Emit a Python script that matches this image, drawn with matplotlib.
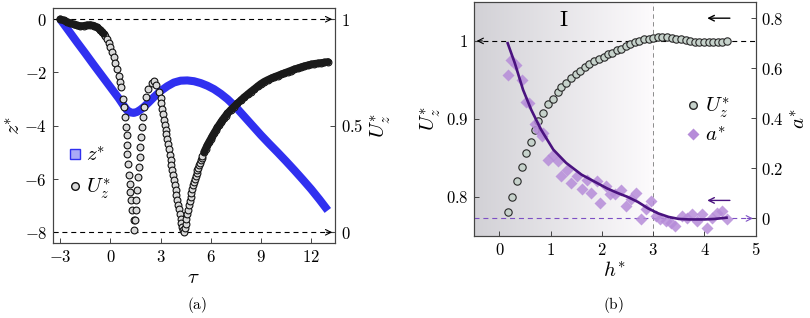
import numpy as np
import matplotlib
matplotlib.use('Agg')
import matplotlib.pyplot as plt
from matplotlib.ticker import FuncFormatter
from matplotlib.lines import Line2D
from matplotlib.colors import LinearSegmentedColormap

plt.rcParams['mathtext.fontset'] = 'cm'
plt.rcParams['font.family'] = ['DejaVu Serif']

# ---- panel (a) : z* and U_z* against tau ----
tau_z = [-3.0, -2.5, -2.0, -1.5, -1.0, -0.5, 0.0, 0.5, 0.8, 1.0, 1.2, 1.4, 1.6, 1.8,
         2.0, 2.3, 2.6, 3.0, 3.4, 3.8, 4.2, 4.6, 5.0, 5.4, 5.8, 6.2, 6.6, 7.0, 7.5,
         8.0, 8.5, 9.0, 9.5, 10.0, 10.5, 11.0, 11.5, 12.0, 12.5, 13.0]
z_star = [0.0, -0.43, -0.86, -1.28, -1.71, -2.13, -2.55, -2.97, -3.25, -3.42, -3.5,
          -3.52, -3.48, -3.4, -3.3, -3.12, -2.93, -2.7, -2.52, -2.38, -2.31, -2.3,
          -2.33, -2.4, -2.5, -2.63, -2.8, -3.0, -3.3, -3.65, -4.0, -4.35, -4.68,
          -5.0, -5.33, -5.67, -6.02, -6.38, -6.77, -7.18]

tau_u = [-3.0, -2.8, -2.6, -2.4, -2.2, -2.0, -1.8, -1.6, -1.4, -1.2, -1.0, -0.8, -0.6,
         -0.5, -0.4, -0.3, -0.2, -0.1, 0.0, 0.1, 0.2, 0.3, 0.4, 0.5, 0.6,
         0.665, 0.75, 0.826, 0.866, 0.925, 0.965, 1.0, 1.02, 1.06, 1.12, 1.16, 1.2,
         1.26, 1.32, 1.4, 1.42,
         1.46, 1.52, 1.54, 1.6, 1.66, 1.7, 1.76, 1.8, 1.86, 1.9, 1.96, 2.02, 2.12,
         2.26, 2.46, 2.62, 2.75, 2.9,
         3.0, 3.05, 3.1, 3.15, 3.2, 3.25, 3.3, 3.35, 3.4, 3.45, 3.5, 3.55, 3.6, 3.65,
         3.7, 3.75, 3.8, 3.85, 3.9, 3.95, 4.0, 4.05, 4.1, 4.15, 4.2, 4.25, 4.3, 4.35,
         4.4, 4.45, 4.5, 4.55, 4.6, 4.65, 4.7, 4.75, 4.8, 4.85, 4.9, 4.95, 5.0, 5.05,
         5.1, 5.15, 5.2, 5.25, 5.3, 5.35, 5.4, 5.45, 5.5, 5.6, 5.7, 5.8, 5.9, 6.0,
         6.1, 6.2, 6.3, 6.4, 6.5, 6.6, 6.7, 6.8, 6.9, 7.0, 7.2, 7.4, 7.6, 7.8, 8.0,
         8.2, 8.4, 8.6, 8.8, 9.0, 9.2, 9.4, 9.6, 9.8, 10.0, 10.2, 10.4, 10.6, 10.8,
         11.0, 11.2, 11.4, 11.6, 11.8, 12.0, 12.2, 12.4, 12.6, 12.8, 13.0]
u_star_a = [1.0, 0.995, 0.988, 0.982, 0.976, 0.971, 0.968, 0.969, 0.972, 0.973, 0.97,
            0.962, 0.95, 0.942, 0.932, 0.92, 0.905, 0.889, 0.87, 0.848, 0.822, 0.795,
            0.765, 0.735, 0.705,
            0.68, 0.626, 0.587, 0.54, 0.493, 0.455, 0.408, 0.369, 0.322, 0.268, 0.229,
            0.19, 0.151, 0.104, 0.057, 0.011,
            0.057, 0.104, 0.151, 0.197, 0.26, 0.307, 0.354, 0.4, 0.447, 0.493, 0.54,
            0.587, 0.634, 0.673, 0.7, 0.708, 0.69, 0.66,
            0.628, 0.605, 0.58, 0.553, 0.527, 0.503, 0.482, 0.46, 0.438, 0.415, 0.392,
            0.365, 0.34, 0.315, 0.292, 0.268, 0.245, 0.222, 0.198, 0.175, 0.152, 0.13,
            0.108, 0.085, 0.062, 0.042, 0.024, 0.01, 0.003, 0.02, 0.04, 0.062, 0.085,
            0.107, 0.128, 0.148, 0.168, 0.186, 0.204, 0.221, 0.237, 0.252, 0.266,
            0.279, 0.292, 0.304, 0.316, 0.327, 0.338, 0.348, 0.358, 0.376, 0.393,
            0.409, 0.424, 0.438, 0.452, 0.466, 0.479, 0.492, 0.504, 0.516, 0.527,
            0.538, 0.548, 0.558, 0.575, 0.59, 0.605, 0.62, 0.634, 0.647, 0.66, 0.672,
            0.685, 0.697, 0.707, 0.715, 0.722, 0.729, 0.735, 0.741, 0.747, 0.753,
            0.759, 0.765, 0.77, 0.775, 0.78, 0.784, 0.788, 0.791, 0.793, 0.795,
            0.797, 0.8]

# ---- panel (b) : U_z* and a* against h* ----
h_u = [0.17, 0.25, 0.34, 0.43, 0.52, 0.61, 0.69, 0.76, 0.85, 0.94, 1.04, 1.14, 1.21,
       1.3, 1.39, 1.49, 1.58, 1.67, 1.75, 1.85, 1.94, 2.03, 2.12, 2.2, 2.29, 2.38,
       2.47, 2.55, 2.64, 2.73, 2.82, 2.91, 3.0, 3.09, 3.18, 3.27, 3.36, 3.45, 3.54,
       3.63, 3.72, 3.81, 3.9, 3.99, 4.08, 4.17, 4.26, 4.35, 4.43]
u_star_b = [0.781, 0.8, 0.82, 0.839, 0.856, 0.871, 0.886, 0.897, 0.907, 0.919, 0.926,
            0.934, 0.941, 0.946, 0.952, 0.958, 0.962, 0.966, 0.971, 0.974, 0.977,
            0.98, 0.983, 0.985, 0.988, 0.99, 0.993, 0.996, 0.998, 1.0, 1.002, 1.003,
            1.004, 1.005, 1.005, 1.005, 1.004, 1.003, 1.002, 1.001, 1.0, 0.999,
            0.998, 0.998, 0.998, 0.998, 0.998, 0.999, 1.0]

h_a = [0.16, 0.23, 0.33, 0.43, 0.51, 0.57, 0.69, 0.75, 0.82, 0.85, 0.94, 1.04, 1.14,
       1.21, 1.32, 1.39, 1.51, 1.61, 1.7, 1.78, 1.9, 1.97, 2.07, 2.16, 2.26, 2.37,
       2.47, 2.56, 2.66, 2.76, 2.85, 2.95, 3.05, 3.14, 3.24, 3.34, 3.43, 3.56, 3.66,
       3.75, 3.85, 3.95, 4.04, 4.14, 4.24, 4.34, 4.43]
a_star = [0.574, 0.633, 0.612, 0.552, 0.466, 0.461, 0.378, 0.355, 0.33, 0.341, 0.235,
          0.255, 0.228, 0.169, 0.195, 0.142, 0.169, 0.116, 0.155, 0.102, 0.149, 0.063,
          0.129, 0.096, 0.096, 0.113, 0.049, 0.076, 0.102, -0.001, 0.036, 0.069,
          0.009, -0.004, -0.011, -0.017, -0.031, 0.009, 0.003, 0.016, -0.011, 0.016,
          -0.037, 0.003, 0.023, 0.029, -0.004]

h_fit = [0.16, 0.3, 0.46, 0.62, 0.81, 1.05, 1.3, 1.6, 1.9, 2.1, 2.3, 2.5, 2.7, 2.9,
         3.1, 3.3, 3.5, 3.7, 4.0, 4.2, 4.43]
a_fit = [0.7, 0.62, 0.514, 0.434, 0.355, 0.275, 0.222, 0.175, 0.142, 0.12, 0.102,
         0.086, 0.066, 0.04, 0.02, 0.006, -0.002, -0.004, -0.004, -0.002, 0.003]


def math_fmt(v, pos):
    return '$%g$' % v


def style_axes(ax):
    for s in ax.spines.values():
        s.set_color('#444444')
        s.set_linewidth(0.8)
    ax.tick_params(direction='in', length=3.5, width=0.7, color='#444444',
                   labelsize=12, pad=4)
    ax.xaxis.set_major_formatter(FuncFormatter(math_fmt))
    ax.yaxis.set_major_formatter(FuncFormatter(math_fmt))


dash = (0, (4.5, 3.5))
fig = plt.figure(figsize=(8.1, 3.18), dpi=100)

# ---------------- (a) ----------------
axA = fig.add_axes([0.065, 0.236, 0.3486, 0.739])
axA2 = axA.twinx()
axA.plot(tau_z, z_star, color='#3030f0', lw=5.8, solid_capstyle='butt',
         solid_joinstyle='round', zorder=2)
t_u = np.array(tau_u)
v_u = np.array(u_star_a)
axA2.plot(t_u, v_u, 'o', ls='none', ms=4.9, mfc='#dadada', mec='#111111',
          mew=0.8, zorder=3)
# where the samples crowd together the circles merge into a dark band
for part in (t_u <= -0.4, t_u >= 5.6):
    axA2.plot(t_u[part], v_u[part], color='#1a1a1a', lw=5.4,
              solid_capstyle='round', solid_joinstyle='round', zorder=4)
axA.set_xlim(-3.45, 13.43)
axA.set_ylim(-8.4, 0.42)
axA2.set_ylim(-0.05, 1.053)
axA.set_xticks([-3, 0, 3, 6, 9, 12])
axA.set_yticks([0, -2, -4, -6, -8])
axA2.set_yticks([0, 0.5, 1])
for yv in (0, 1):
    axA2.axhline(yv, color='k', ls=dash, lw=0.8, zorder=1)
    axA2.annotate('', xy=(1.0, yv), xycoords=('axes fraction', 'data'),
                  xytext=(0.96, yv), textcoords=('axes fraction', 'data'),
                  arrowprops=dict(arrowstyle='->', color='k', lw=0.8))
style_axes(axA)
style_axes(axA2)
axA.set_xlabel(r'$\tau$', fontsize=15, labelpad=2)
axA.set_ylabel(r'$z^{*}$', fontsize=15, labelpad=0)
axA2.set_ylabel(r'$U_z^{*}$', fontsize=15, labelpad=4)
hA = [Line2D([], [], marker='s', ls='none', ms=6.5, mfc='#a9a9f7', mec='#3030f0'),
      Line2D([], [], marker='o', ls='none', ms=5.5, mfc='#dadada', mec='#111111')]
axA2.legend(hA, [r'$z^{*}$', r'$U_z^{*}$'], loc='lower left',
            bbox_to_anchor=(-0.01, 0.1), frameon=False, fontsize=15,
            handlelength=0.6, handletextpad=0.25, labelspacing=0.55)

# ---------------- (b) ----------------
axB = fig.add_axes([0.585, 0.258, 0.348, 0.736])
axB2 = axB.twinx()
shade = LinearSegmentedColormap.from_list('shade', ['#d2d1d6', '#fdfbfd'])
axB.imshow(np.linspace(0, 1, 256)[None, :], extent=[-0.5, 3, 0.75, 1.05],
           aspect='auto', cmap=shade, zorder=0)
axB.axvline(3, color='#8c8c8c', ls=dash, lw=0.7, zorder=1)
axB.plot(h_u, u_star_b, 'o', ls='none', ms=5.3, mfc='#c6d2cb', mec='#2a2a2a',
         mew=0.8, zorder=3)
axB.axhline(1, color='k', ls=dash, lw=0.8, zorder=1)
axB.annotate('', xy=(0.0, 1), xycoords=('axes fraction', 'data'),
             xytext=(0.04, 1), textcoords=('axes fraction', 'data'),
             arrowprops=dict(arrowstyle='->', color='k', lw=0.8))
axB2.plot(h_a, a_star, 'D', ls='none', ms=6.2, mfc='#b68cd9', mec='none',
          alpha=0.85, zorder=2)
axB2.plot(h_fit, a_fit, color='#4a137f', lw=1.9, zorder=4)
axB2.axhline(0, color='#7d4fc4', ls=dash, lw=0.8, zorder=1)
axB2.annotate('', xy=(1.0, 0), xycoords=('axes fraction', 'data'),
              xytext=(0.96, 0), textcoords=('axes fraction', 'data'),
              arrowprops=dict(arrowstyle='->', color='#7d4fc4', lw=0.8))
axB2.annotate('', xy=(4.0, 0.8), xytext=(4.55, 0.8),
              arrowprops=dict(arrowstyle='->', color='k', lw=1.0))
axB2.annotate('', xy=(4.0, 0.072), xytext=(4.55, 0.072),
              arrowprops=dict(arrowstyle='->', color='#4a137f', lw=1.0))
axB.text(1.25, 1.027, r'$\mathrm{I}$', fontsize=16, ha='center', va='center')
axB.set_xlim(-0.5, 5)
axB.set_ylim(0.75, 1.05)
axB2.set_ylim(-0.07, 0.865)
axB.set_xticks([0, 1, 2, 3, 4, 5])
axB.set_yticks([0.8, 0.9, 1.0])
axB2.set_yticks([0, 0.2, 0.4, 0.6, 0.8])
style_axes(axB)
style_axes(axB2)
axB.set_xlabel(r'$h^{*}$', fontsize=15, labelpad=2)
axB.set_ylabel(r'$U_z^{*}$', fontsize=15, labelpad=2)
axB2.set_ylabel(r'$a^{*}$', fontsize=15, labelpad=4)
hB = [Line2D([], [], marker='o', ls='none', ms=5.5, mfc='#c6d2cb', mec='#2a2a2a'),
      Line2D([], [], marker='D', ls='none', ms=6.2, mfc='#b68cd9', mec='none')]
axB2.legend(hB, [r'$U_z^{*}$', r'$a^{*}$'], loc='upper left',
            bbox_to_anchor=(0.69, 0.68), frameon=False, fontsize=15,
            handlelength=0.6, handletextpad=0.25, labelspacing=0.3)

fig.text(197 / 810, 1 - 305 / 318, r'$\mathrm{(a)}$', ha='center', va='center',
         fontsize=11)
fig.text(613 / 810, 1 - 305 / 318, r'$\mathrm{(b)}$', ha='center', va='center',
         fontsize=11)

fig.savefig('out.png', dpi=100)
